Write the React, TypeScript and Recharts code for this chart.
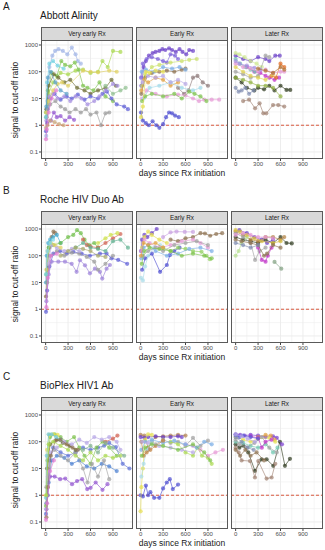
import React from "react";
import { ScatterChart, Scatter, XAxis, YAxis, ReferenceLine } from "recharts";

type Pt = [number, number];

/* ---- data: days since Rx initiation vs signal to cut-off ratio ---- */

const FACETS = ["Very early Rx", "Early Rx", "Later Rx"];
const X_TICKS = [0, 300, 600, 900];
const X_MINOR = [150, 450, 750, 1050];
const Y_TICKS = [0.1, 1, 10, 100, 1000];
const Y_MINOR = [0.316, 3.16, 31.6, 316];
const CUTOFF = 1;

// Abbott Alinity
const ABBOTT_VERY_EARLY: Pt[][] = [
  [[8, 0.4], [25, 8], [50, 150], [90, 400], [127, 600], [172, 700], [230, 600], [290, 450], [350, 800], [400, 450], [430, 250], [470, 200]],
  [[10, 2], [40, 15], [100, 40], [200, 90], [300, 80], [400, 110], [500, 120], [600, 90], [700, 100], [760, 250], [830, 150], [900, 600], [1000, 550]],
  [[5, 3], [30, 20], [80, 90], [150, 70], [210, 250], [260, 180], [330, 160], [390, 220], [440, 120], [500, 30], [560, 25], [640, 20], [720, 40], [800, 12], [900, 8]],
  [[10, 4], [40, 30], [110, 80], [170, 60], [250, 40], [330, 50], [420, 25], [520, 20], [600, 15], [700, 20], [800, 25], [880, 50], [940, 30]],
  [[5, 0.6], [25, 4], [60, 10], [120, 15], [200, 9], [280, 12], [350, 10], [430, 14], [520, 9], [600, 12], [700, 10], [760, 15], [820, 18], [880, 10], [950, 6], [1050, 5], [1100, 4]],
  [[10, 1.5], [50, 12], [100, 15], [160, 10], [250, 12], [330, 8], [400, 12], [480, 10], [560, 6], [650, 8], [720, 12], [800, 20], [900, 35], [960, 30]],
  [[10, 2], [60, 6], [130, 8], [200, 5], [260, 4], [320, 3], [400, 4], [470, 3], [540, 4], [600, 2.5], [680, 3], [740, 1], [800, 2.8], [850, 3]],
  [[20, 1.2], [70, 1.5], [110, 3], [150, 2], [200, 2.2], [260, 1.5], [320, 2], [380, 1.6]],
  [[5, 2], [20, 40], [50, 200], [100, 250], [160, 170], [240, 130]],
  [[10, 3], [40, 8], [100, 20], [160, 35], [220, 40], [300, 30], [500, 110], [600, 100], [700, 95], [850, 110], [950, 100]],
  [[5, 0.8], [25, 1], [60, 1.5], [120, 1.3], [180, 1.1], [240, 1]],
  [[5, 0.3], [15, 0.7], [40, 3], [80, 10], [140, 20]],
  [[10, 5], [30, 60], [70, 100], [130, 40], [200, 20], [280, 15]],
  [[800, 30], [900, 15], [1000, 20], [1070, 25]],
];
const ABBOTT_VERY_EARLY_COLORS = ["#9fb3e6", "#a9d94f", "#7cc24c", "#6b6b30", "#5d5dd6", "#a58ee0", "#9a9a9a", "#9355d0", "#6fd0e0", "#e0d060", "#c9a57a", "#e27ad0", "#5aa0c8", "#8fbf8f"];

const ABBOTT_EARLY: Pt[][] = [
  [[10, 30], [40, 150], [70, 250], [110, 400], [160, 500], [200, 550], [250, 600], [290, 700], [330, 650], [380, 750], [420, 650], [470, 550], [520, 700], [560, 550], [610, 450], [650, 650], [700, 600]],
  [[5, 60], [30, 200], [80, 300], [150, 350], [230, 300], [300, 250], [350, 220], [400, 450], [460, 400], [500, 300]],
  [[20, 30], [60, 80], [150, 150], [250, 180], [400, 220], [550, 250], [650, 280], [750, 300]],
  [[10, 15], [60, 60], [150, 90], [250, 100], [350, 110], [450, 100], [550, 120], [600, 130]],
  [[500, 25], [580, 15], [640, 20], [700, 60], [760, 70], [830, 40], [900, 30]],
  [[5, 3], [30, 1.5], [70, 1.2], [110, 1], [160, 1.4], [210, 1], [250, 0.8], [300, 1.1], [340, 2], [380, 3], [420, 2.8], [460, 2.3], [510, 2]],
  [[20, 10], [80, 20], [200, 15], [350, 12], [500, 14], [600, 13], [700, 10], [780, 8], [850, 9], [950, 9], [1050, 9]],
  [[10, 20], [50, 50], [100, 40], [200, 60], [300, 50], [400, 30], [500, 40]],
  [[40, 10], [120, 25], [250, 30], [400, 40], [550, 25], [700, 20], [800, 25]],
  [[20, 8], [60, 12], [150, 15], [300, 12], [450, 15], [550, 10], [650, 18], [720, 15], [800, 12], [880, 8]],
  [[30, 40], [100, 70], [200, 60], [300, 70], [400, 40], [500, 50], [600, 35]],
  [[15, 100], [70, 120], [180, 100], [300, 150], [420, 130], [520, 150], [600, 120]],
  [[5, 2], [30, 5], [70, 100], [120, 90], [200, 110], [300, 100]],
];
const ABBOTT_EARLY_COLORS = ["#6a3fc8", "#7b5fd8", "#c9e06a", "#8b6f4e", "#8c7878", "#4b4bd0", "#e59ad6", "#e0a040", "#9fd8e8", "#7cc24c", "#b7a6e6", "#7aaee6", "#e5de50"];

const ABBOTT_LATER: Pt[][] = [
  [[100, 8], [180, 9], [260, 4.3], [320, 6.6], [370, 2.8], [410, 2.8], [500, 5.7], [570, 5.7], [650, 5]],
  [[0, 60], [80, 40], [150, 25], [250, 20], [300, 25], [380, 22], [450, 30], [520, 20], [600, 30], [680, 21], [730, 21]],
  [[0, 400], [100, 300], [200, 250], [300, 350], [400, 300], [450, 250], [530, 400], [590, 400]],
  [[150, 150], [250, 100], [330, 90], [400, 70], [450, 60], [520, 50], [580, 60]],
  [[480, 70], [540, 60], [600, 200], [650, 150]],
  [[0, 500], [50, 450], [120, 350], [200, 250], [280, 200], [350, 150]],
  [[0, 25], [40, 18], [80, 20], [130, 25], [180, 15], [240, 20]],
  [[0, 300], [60, 200], [130, 150], [200, 120], [260, 100]],
  [[0, 100], [100, 80], [200, 60], [300, 70], [400, 400], [450, 350]],
  [[0, 150], [100, 100], [200, 70], [300, 60], [400, 50], [500, 80]],
  [[0, 200], [100, 150], [200, 130], [300, 100], [400, 120], [500, 90], [600, 100], [650, 100]],
  [[0, 60], [100, 50], [200, 40], [300, 30], [400, 30], [500, 25], [600, 12]],
  [[0, 250], [50, 200], [150, 170], [250, 140], [330, 120]],
  [[300, 130], [400, 110], [500, 90], [600, 150], [650, 120]],
];
const ABBOTT_LATER_COLORS = ["#a08070", "#2f3a1f", "#6a3fc8", "#c030c8", "#e06a20", "#cfe890", "#7f8cb0", "#6fc8b0", "#a0a0a0", "#e0d050", "#e59ad6", "#90b040", "#a58ee0", "#b07030"];

// Roche HIV Duo Ab
const ROCHE_VERY_EARLY: Pt[][] = [
  [[5, 3], [20, 30], [50, 200], [80, 500], [105, 800], [130, 700]],
  [[5, 10], [15, 100], [35, 300], [60, 400], [100, 500], [150, 600], [200, 300]],
  [[10, 20], [40, 200], [100, 250], [200, 300], [300, 500], [370, 600], [420, 900], [470, 700], [520, 400], [580, 250], [650, 300], [700, 200]],
  [[5, 0.8], [20, 5], [50, 40], [103, 120], [192, 150], [281, 120], [370, 140], [481, 120], [592, 100], [726, 120], [815, 120], [881, 80], [970, 70], [1090, 50]],
  [[10, 2], [40, 20], [80, 60], [170, 60], [259, 60], [348, 50], [414, 25], [459, 68], [526, 44], [592, 22], [659, 33], [726, 25], [757, 14], [815, 33], [859, 45]],
  [[20, 10], [60, 100], [150, 150], [250, 100], [350, 130], [450, 120], [550, 90], [650, 60], [700, 30], [800, 50], [900, 100]],
  [[500, 400], [550, 250], [600, 220], [700, 200], [800, 300], [900, 450], [1000, 650]],
  [[700, 300], [800, 450], [870, 600], [960, 700]],
  [[400, 200], [500, 300], [600, 200], [700, 180], [800, 150], [900, 350], [1000, 400], [1100, 200]],
  [[30, 50], [80, 250], [150, 200], [250, 150], [350, 180], [450, 150]],
  [[10, 30], [30, 150], [70, 300], [120, 250], [200, 200]],
  [[5, 20], [25, 150], [60, 300], [100, 400]],
  [[200, 100], [300, 150], [400, 200], [500, 180], [600, 150], [700, 100], [800, 90]],
  [[10, 1.2], [30, 15], [70, 100], [150, 120]],
];
const ROCHE_VERY_EARLY_COLORS = ["#8b6f4e", "#40a8d0", "#6fbf4a", "#5d5dd6", "#9a7fd8", "#9a9a9a", "#d06050", "#cde048", "#60b090", "#b7a6e6", "#e0d060", "#7fd6e6", "#a6a66a", "#e27ad0"];

const ROCHE_EARLY: Pt[][] = [
  [[5, 150], [20, 400], [50, 600], [90, 500], [150, 700], [215, 1000]],
  [[300, 500], [400, 750], [480, 800], [590, 780], [700, 780]],
  [[400, 400], [500, 350], [600, 450], [700, 500], [800, 700], [860, 680], [930, 560], [1010, 650], [1090, 700]],
  [[20, 30], [60, 80], [150, 120], [260, 25], [350, 45], [390, 105], [450, 150], [520, 200]],
  [[300, 200], [400, 150], [500, 200], [600, 180], [700, 150], [814, 140], [880, 100], [926, 74]],
  [[20, 200], [50, 500], [100, 800], [150, 600], [250, 400], [350, 300]],
  [[5, 15], [30, 12], [60, 40], [100, 100], [180, 200], [260, 250]],
  [[10, 150], [50, 400], [120, 300], [250, 200], [400, 250], [550, 350], [700, 400], [800, 300], [900, 200]],
  [[30, 100], [100, 150], [200, 200], [300, 150], [450, 250], [600, 300], [750, 350], [900, 250]],
  [[10, 80], [40, 200], [100, 250], [200, 150], [350, 100], [500, 120], [650, 180], [800, 200], [950, 150]],
  [[5, 100], [40, 300], [100, 250], [200, 300], [300, 200]],
  [[15, 50], [50, 150], [120, 200], [250, 180], [400, 150], [550, 100], [700, 120], [850, 100], [950, 80]],
];
const ROCHE_EARLY_COLORS = ["#6a3fc8", "#c7a0e0", "#8b6f4e", "#4b4bd0", "#92d060", "#e5de50", "#a8dce8", "#e59ad6", "#a0a0a0", "#7aaee6", "#e0a040", "#7cc24c"];

const ROCHE_LATER: Pt[][] = [
  [[0, 500], [100, 400], [200, 350], [300, 300], [400, 400], [500, 300], [600, 500], [680, 300], [750, 290]],
  [[0, 800], [100, 600], [200, 400], [300, 350], [400, 500], [500, 500], [600, 400], [650, 500]],
  [[50, 900], [150, 700], [250, 500], [350, 400], [420, 300], [500, 400]],
  [[520, 59], [610, 33]],
  [[0, 700], [100, 500], [200, 300], [260, 70], [320, 150], [400, 200]],
  [[300, 200], [350, 70], [400, 60], [430, 100], [480, 200]],
  [[0, 100], [40, 150], [80, 300], [150, 500]],
  [[0, 900], [60, 800], [150, 600], [250, 450], [350, 350], [500, 300], [600, 350]],
  [[0, 600], [100, 700], [200, 600], [300, 500], [400, 500], [500, 450]],
  [[0, 400], [80, 350], [200, 300], [300, 250], [380, 100], [420, 120], [500, 250], [600, 200]],
  [[0, 300], [100, 250], [200, 200], [300, 250]],
];
const ROCHE_LATER_COLORS = ["#2f3a1f", "#b08040", "#6a3fc8", "#80a080", "#a0a0a0", "#c030c8", "#b6e090", "#d9c040", "#e59ad6", "#8b6f4e", "#7f8cb0"];

// BioPlex HIV1 Ab
const BIOPLEX_VERY_EARLY: Pt[][] = [
  [[10, 0.3], [30, 1], [60, 5], [120, 5], [194, 4], [262, 4.2], [353, 2.6], [420, 3.4], [488, 4], [556, 1.7], [601, 1.9], [669, 3], [760, 1.6], [827, 2.6]],
  [[5, 0.2], [20, 1], [50, 20], [100, 60], [200, 40], [300, 30], [400, 40], [500, 60], [600, 50], [700, 60], [782, 71], [850, 90], [940, 63], [1030, 15], [1120, 10]],
  [[10, 0.5], [40, 3], [80, 20], [150, 30], [250, 25], [350, 15], [450, 20], [550, 12], [650, 10], [750, 15], [850, 12], [950, 8]],
  [[5, 0.4], [25, 20], [60, 150], [120, 190], [200, 150], [280, 100], [380, 150], [450, 60], [520, 30], [600, 15], [680, 60], [760, 100], [850, 60], [950, 30]],
  [[10, 2], [50, 30], [120, 50], [200, 30], [300, 20], [400, 40], [500, 10], [560, 3], [620, 15], [700, 5], [780, 20], [850, 4]],
  [[20, 10], [60, 80], [150, 120], [230, 90], [320, 70], [400, 50]],
  [[5, 1], [20, 50], [50, 180], [100, 190], [160, 180]],
  [[5, 0.8], [15, 30], [40, 190], [80, 190], [140, 150], [200, 120]],
  [[10, 0.3], [30, 5], [70, 40], [150, 60], [250, 100], [350, 80], [450, 120], [550, 90], [650, 150], [750, 120], [850, 150], [950, 100], [1000, 50]],
  [[10, 0.15], [30, 2], [70, 30], [130, 110], [200, 120], [280, 80], [360, 60], [430, 50]],
  [[5, 0.12], [20, 0.5], [60, 8], [110, 20]],
  [[10, 1], [40, 80], [100, 100], [200, 70], [300, 50], [400, 30], [500, 20], [600, 40], [700, 20], [800, 30], [900, 25], [1000, 30]],
  [[800, 100], [900, 130], [960, 170]],
  [[500, 50], [600, 70], [700, 40], [800, 90], [900, 60], [1050, 30]],
];
const BIOPLEX_VERY_EARLY_COLORS = ["#9355d0", "#5d6fd6", "#4a7fd0", "#7cc24c", "#a0a0a0", "#6b6b30", "#e5de50", "#70c8d8", "#b7a6e6", "#8b6f4e", "#e27ad0", "#a9d94f", "#d06050", "#80b090"];

const BIOPLEX_EARLY: Pt[][] = [
  [[0, 1], [30, 0.9], [70, 2.3], [100, 1], [130, 1.3], [180, 0.8], [250, 0.8], [300, 1.8], [350, 3], [390, 4], [430, 1.7], [500, 2.5]],
  [[0, 180], [50, 170], [100, 60], [150, 100], [200, 150], [300, 160], [400, 170], [500, 180], [600, 170]],
  [[0, 150], [50, 140], [100, 150], [200, 160], [300, 150], [400, 150], [500, 160], [550, 150]],
  [[100, 50], [200, 80], [300, 120], [400, 90], [500, 100], [600, 70], [700, 140], [800, 70], [900, 110]],
  [[400, 100], [500, 80], [600, 40], [700, 30], [760, 60], [820, 30], [900, 25], [950, 15]],
  [[600, 80], [700, 70], [800, 50], [900, 30], [1000, 40], [1100, 50]],
  [[0, 0.25], [10, 2], [30, 10], [60, 120], [100, 190], [150, 180]],
  [[10, 5], [40, 15], [80, 50], [150, 100]],
  [[10, 50], [60, 100], [150, 120], [300, 90], [450, 110], [600, 80], [750, 60], [850, 100], [950, 80]],
  [[10, 100], [40, 30], [80, 40], [130, 50], [200, 70], [300, 110]],
  [[20, 100], [100, 90], [250, 70], [400, 60], [550, 50], [700, 40]],
  [[15, 30], [60, 60], [150, 80], [300, 70], [500, 50], [700, 80], [850, 40], [930, 20]],
];
const BIOPLEX_EARLY_COLORS = ["#4b4bd0", "#b08050", "#6a3fc8", "#a0a0a0", "#a9d94f", "#e59ad6", "#e5de50", "#a8dce8", "#7aaee6", "#c08040", "#b7a6e6", "#7cc24c"];

const BIOPLEX_LATER: Pt[][] = [
  [[0, 80], [50, 60], [102, 71], [169, 40], [258, 8.2], [347, 22], [414, 22], [503, 12.6], [592, 100], [659, 12.6], [726, 23]],
  [[0, 60], [40, 40], [80, 20], [191, 19], [258, 4.6], [303, 19], [414, 4.2], [481, 4.6], [530, 15]],
  [[0, 190], [60, 180], [120, 170], [200, 180], [300, 170], [400, 150], [500, 160], [550, 140], [620, 80]],
  [[300, 150], [400, 180], [470, 170], [520, 120]],
  [[0, 150], [100, 120], [200, 100], [300, 130], [450, 140], [530, 100]],
  [[0, 100], [100, 90], [200, 70], [300, 60], [400, 80], [500, 40], [560, 60]],
  [[0, 120], [50, 80], [150, 60], [250, 90], [350, 150], [450, 60], [550, 40]],
  [[0, 150], [80, 100], [160, 60], [240, 50]],
  [[200, 160], [300, 140], [350, 60], [400, 100], [480, 120]],
  [[0, 50], [60, 30], [130, 50], [200, 30], [280, 40], [380, 20]],
  [[0, 180], [50, 150], [100, 170], [200, 150], [300, 130]],
  [[0, 190], [80, 160], [160, 130], [260, 100]],
];
const BIOPLEX_LATER_COLORS = ["#2f3a1f", "#a08070", "#7a3fd0", "#e0a040", "#e5de50", "#6fc8b0", "#a0a0a0", "#7f8cb0", "#c030c8", "#8b6f4e", "#5d5dd6", "#b7a6e6"];

const ROWS = [
  { tag: "A", title: "Abbott Alinity", series: [ABBOTT_VERY_EARLY, ABBOTT_EARLY, ABBOTT_LATER], colors: [ABBOTT_VERY_EARLY_COLORS, ABBOTT_EARLY_COLORS, ABBOTT_LATER_COLORS] },
  { tag: "B", title: "Roche HIV Duo Ab", series: [ROCHE_VERY_EARLY, ROCHE_EARLY, ROCHE_LATER], colors: [ROCHE_VERY_EARLY_COLORS, ROCHE_EARLY_COLORS, ROCHE_LATER_COLORS] },
  { tag: "C", title: "BioPlex HIV1 Ab", series: [BIOPLEX_VERY_EARLY, BIOPLEX_EARLY, BIOPLEX_LATER], colors: [BIOPLEX_VERY_EARLY_COLORS, BIOPLEX_EARLY_COLORS, BIOPLEX_LATER_COLORS] },
];

/* ---- layout ---- */
const FONT = "'Liberation Sans', Arial, sans-serif";
const X_DOMAIN: [number, number] = [-62, 1168];
const Y_DOMAIN: [number, number] = [0.0547, 1538];
const FACET_LEFT = [41, 136, 231];
const PLOT_W = 92;
const PLOT_H = 119;
const Y_AXIS_W = 27;
const X_AXIS_H = 12;
const STRIP_H = 13;
const ROW_TOP = [27, 211, 397]; // strip tops
const GRID = "#ebebeb";
const BORDER = "#5a5a5a";

function Facet({ series, colors, left, top, showY }: {
  series: Pt[][]; colors: string[]; left: number; top: number; showY: boolean;
}) {
  const w = PLOT_W + (showY ? Y_AXIS_W : 0);
  return (
    <div style={{ position: "absolute", left: left - (showY ? Y_AXIS_W : 0), top, width: w, height: PLOT_H + X_AXIS_H }}>
      <ScatterChart width={w} height={PLOT_H + X_AXIS_H} margin={{ top: 0, right: 0, bottom: 0, left: 0 }}>
        <XAxis
          type="number"
          dataKey="x"
          domain={X_DOMAIN}
          allowDataOverflow
          ticks={X_TICKS}
          interval={0}
          height={X_AXIS_H}
          tickSize={2}
          tickMargin={1}
          axisLine={false}
          tickLine={{ stroke: "#444" }}
          tick={{ fontSize: 6, fill: "#4d4d4d", fontFamily: FONT }}
        />
        <YAxis
          type="number"
          dataKey="y"
          scale="log"
          domain={Y_DOMAIN}
          allowDataOverflow
          ticks={Y_TICKS}
          interval={0}
          hide={!showY}
          width={Y_AXIS_W}
          tickSize={2}
          tickMargin={1}
          axisLine={false}
          tickLine={{ stroke: "#444" }}
          tick={{ fontSize: 6, fill: "#4d4d4d", fontFamily: FONT }}
          tickFormatter={(v) => String(v)}
        />
        {X_MINOR.map((v) => <ReferenceLine key={"xm" + v} x={v} stroke={GRID} strokeWidth={0.5} />)}
        {Y_MINOR.map((v) => <ReferenceLine key={"ym" + v} y={v} stroke={GRID} strokeWidth={0.5} />)}
        {X_TICKS.map((v) => <ReferenceLine key={"x" + v} x={v} stroke={GRID} strokeWidth={0.9} />)}
        {Y_TICKS.map((v) => <ReferenceLine key={"y" + v} y={v} stroke={GRID} strokeWidth={0.9} />)}
        {series.map((pts, i) => {
          const c = colors[i % colors.length];
          return (
            <Scatter
              key={i}
              data={pts.map(([x, y]) => ({ x, y }))}
              fill={c}
              line={{ stroke: c, strokeWidth: 0.9, strokeOpacity: 0.7 }}
              shape={(p: any) => <circle cx={p.cx} cy={p.cy} r={2.1} fill={c} fillOpacity={0.7} />}
              isAnimationActive={false}
            />
          );
        })}
        <ReferenceLine y={CUTOFF} stroke="#d9472b" strokeWidth={0.9} strokeDasharray="3 2" />
      </ScatterChart>
      <div style={{
        position: "absolute", left: showY ? Y_AXIS_W : 0, top: 0, width: PLOT_W, height: PLOT_H,
        border: `1px solid ${BORDER}`, boxSizing: "border-box", pointerEvents: "none",
      }} />
    </div>
  );
}

export default function App() {
  return (
    <div style={{ position: "absolute", left: 0, top: 0, width: 325, height: 550, background: "#fff", overflow: "hidden", fontFamily: FONT, color: "#1a1a1a" }}>
      {ROWS.map((row, r) => {
        const stripTop = ROW_TOP[r];
        const plotTop = stripTop + STRIP_H;
        return (
          <React.Fragment key={row.tag}>
            <div style={{ position: "absolute", left: 3, top: stripTop - 25, fontSize: 10, lineHeight: "10px" }}>{row.tag}</div>
            <div style={{ position: "absolute", left: 40, top: stripTop - 16, fontSize: 10, lineHeight: "10px" }}>{row.title}</div>
            {FACETS.map((f, i) => (
              <div key={f} style={{
                position: "absolute", left: FACET_LEFT[i], top: stripTop, width: PLOT_W, height: STRIP_H + 1,
                background: "#d9d9d9", border: `1px solid ${BORDER}`, boxSizing: "border-box",
                fontSize: 6.3, lineHeight: `${STRIP_H - 1}px`, textAlign: "center", color: "#1a1a1a",
              }}>{f}</div>
            ))}
            {FACETS.map((f, i) => (
              <Facet key={"c" + f} series={row.series[i]} colors={row.colors[i]} left={FACET_LEFT[i]} top={plotTop} showY={i === 0} />
            ))}
            <div style={{ position: "absolute", left: 41, width: 282, top: plotTop + PLOT_H + 9, fontSize: 8.5, lineHeight: "10px", textAlign: "center" }}>
              days since Rx initiation
            </div>
            <div style={{
              position: "absolute", left: 15 - 60, top: plotTop + PLOT_H / 2 - 5, width: 120, fontSize: 8.5, lineHeight: "10px",
              textAlign: "center", transform: "rotate(-90deg)",
            }}>
              signal to cut-off ratio
            </div>
          </React.Fragment>
        );
      })}
    </div>
  );
}
